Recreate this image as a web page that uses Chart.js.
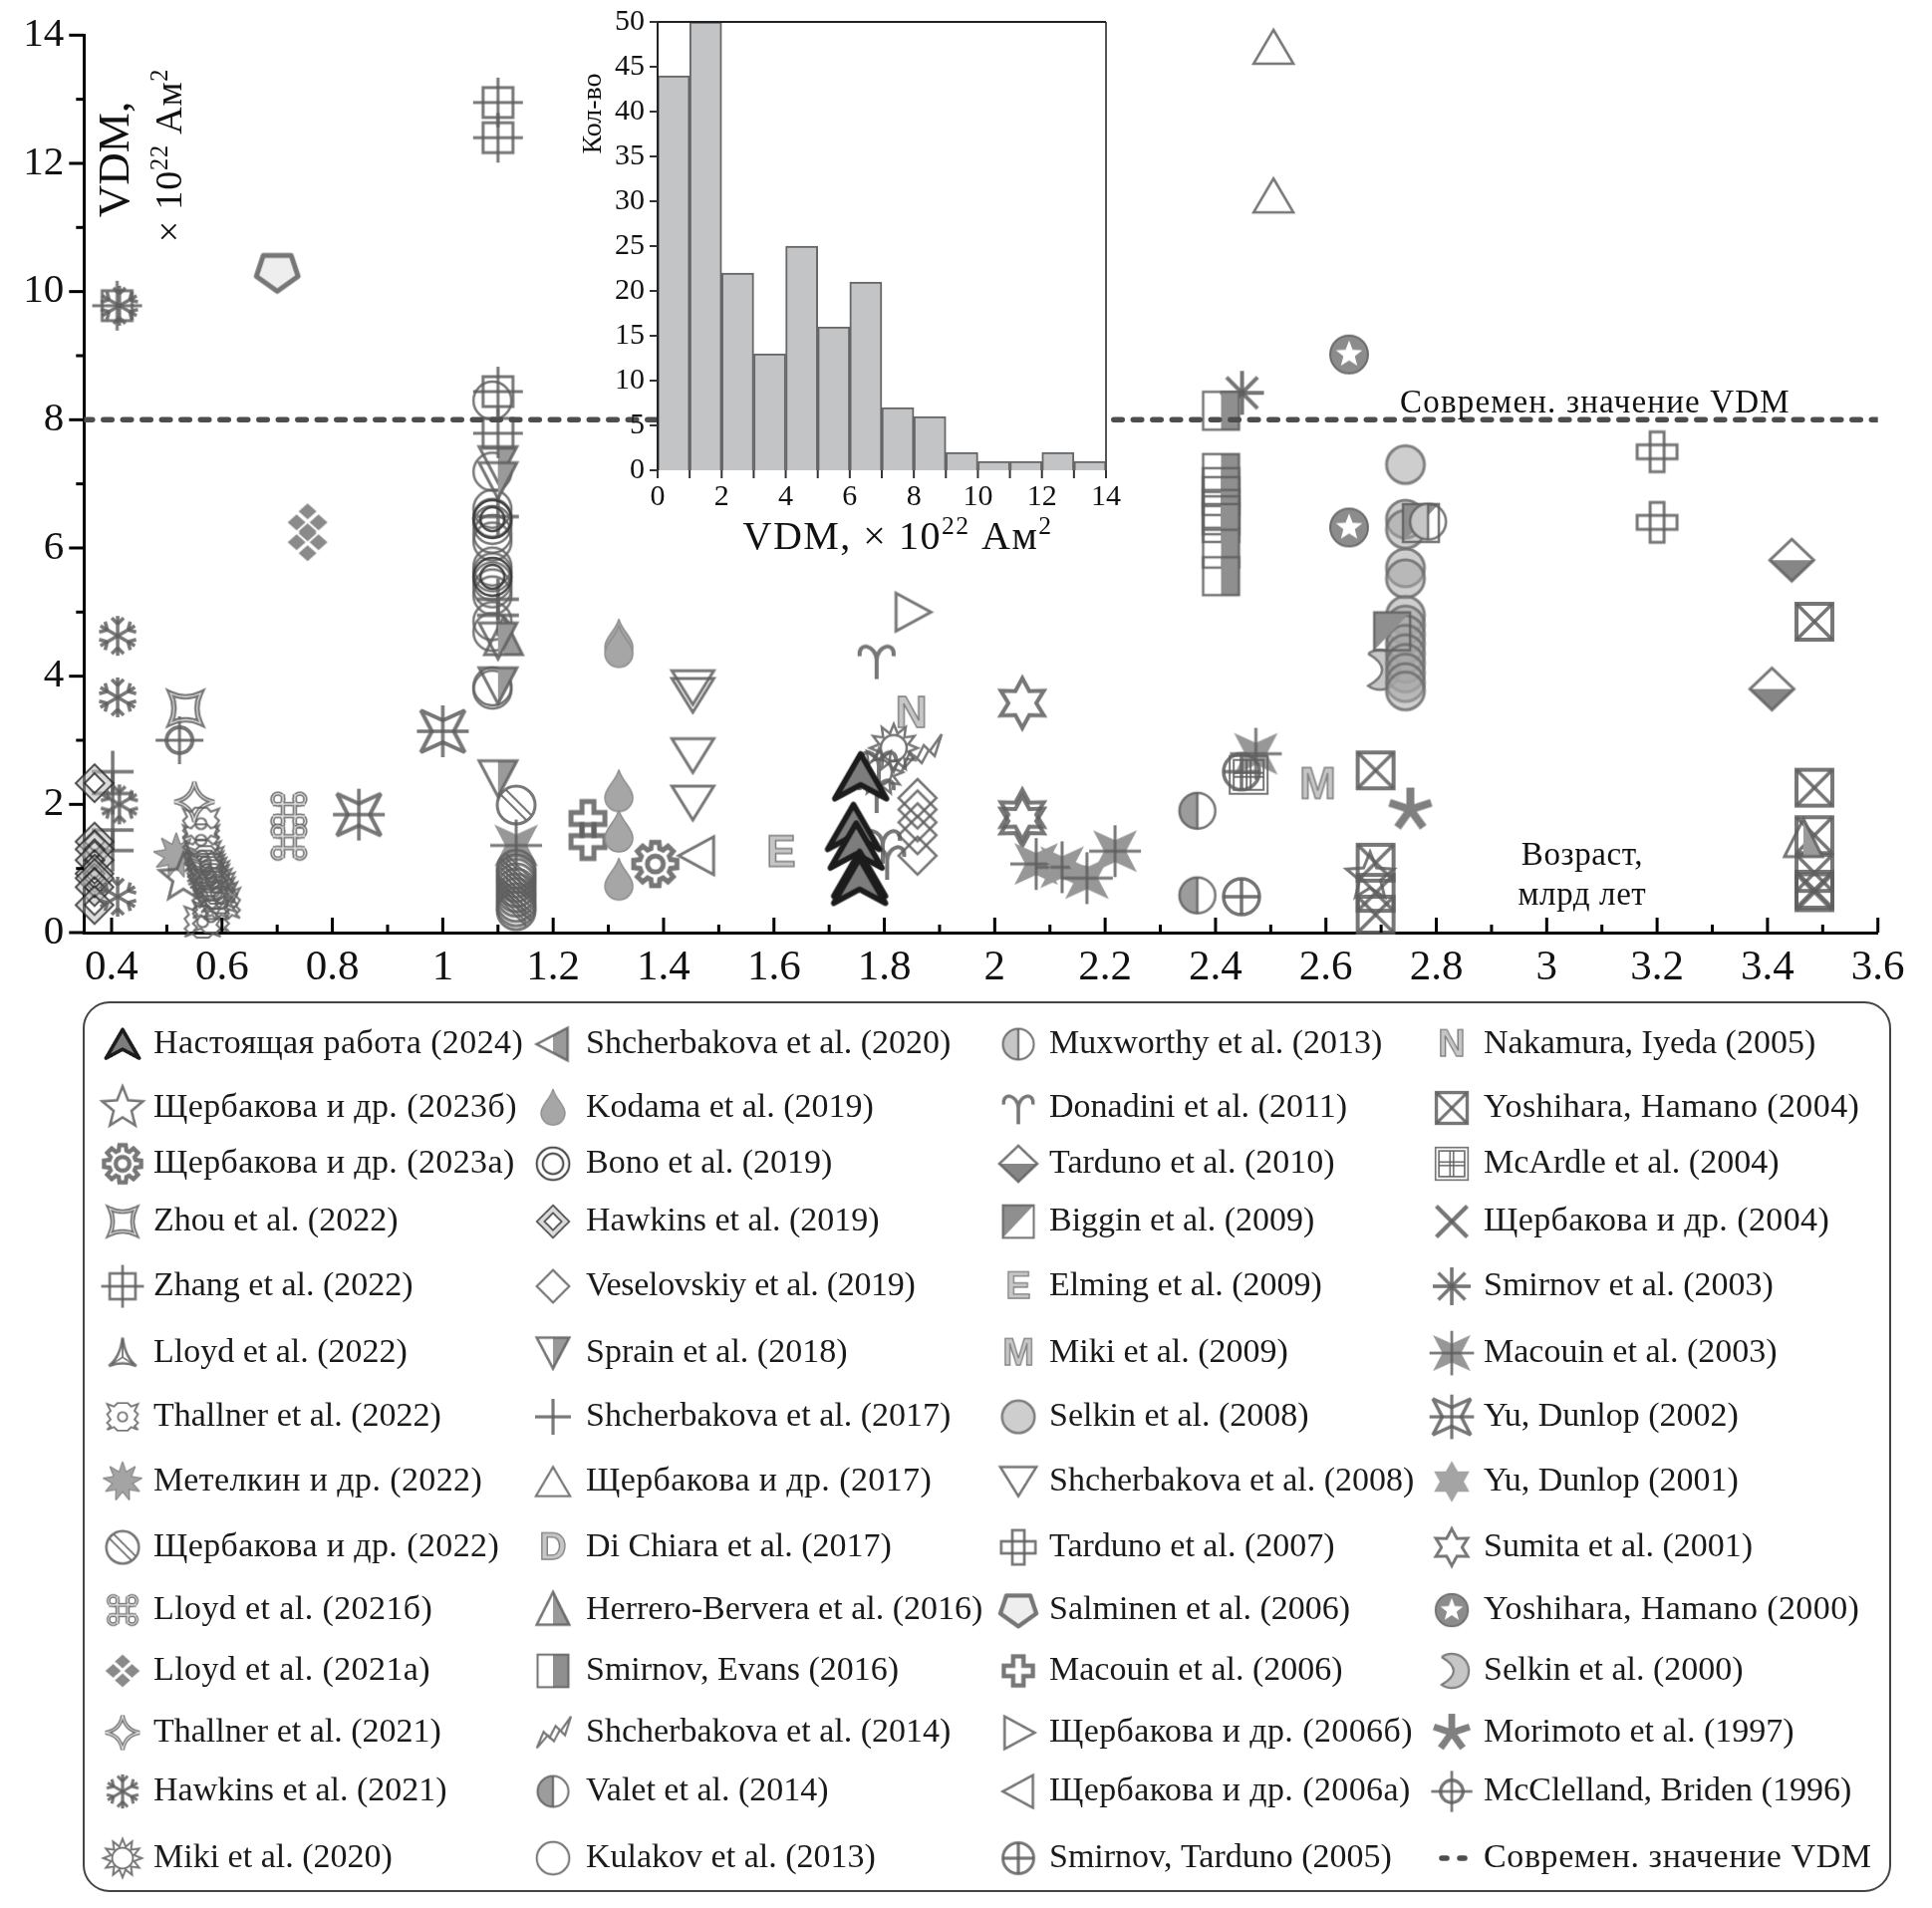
<!DOCTYPE html>
<html>
<head>
<meta charset="utf-8">
<script src="https://cdn.jsdelivr.net/npm/chart.js@4/dist/chart.umd.min.js"></script>
<style>
    body { margin: 0; background: #fff; }
    #wrap { position: relative; width: 1939px; height: 1915px; }
    #mainChart { position: absolute; left: 0; top: 0; }
    #insetChart { position: absolute; left: 560px; top: 0; }
</style>
</head>
<body>
<div id="wrap">
    <canvas id="mainChart" width="1939" height="1915"></canvas>
    <canvas id="insetChart" width="590" height="570"></canvas>
</div>
<script>
// age (Ga), VDM pairs, one list per study
const nastoyashchaya = [[1.757,2.43],[1.744,1.64],[1.749,1.35],[1.755,0.91],[1.755,0.8]];
const shch2023b = [[0.53,0.85],[2.68,0.87]];
const shch2023a = [[1.385,1.07]];
const zhou2022 = [[0.534,3.5]];
const zhang2022 = [[0.41,9.78],[1.1,12.95],[1.1,12.4],[1.1,8.44],[1.1,7.79]];
const lloyd2022 = [];
const thallner2022 = [[0.562,1.7],[0.562,1.44],[0.565,1.19],[0.57,1.1],[0.57,1.03],[0.572,0.98],[0.575,0.93],[0.58,0.88],[0.58,0.82],[0.585,0.76],[0.59,0.7],[0.59,0.62],[0.595,0.55],[0.58,0.46],[0.6,0.46],[0.58,0.25],[0.565,0.17]];
const metelkin2022 = [[0.517,1.2]];
const shch2022 = [[1.133,1.99],[1.133,0.99],[1.133,0.92],[1.133,0.85],[1.133,0.78],[1.133,0.7],[1.133,0.62],[1.133,0.55],[1.133,0.47],[1.133,0.4],[1.133,0.34]];
const lloyd2021b = [[0.721,1.91],[0.721,1.41]];
const lloyd2021a = [[0.755,6.4],[0.755,6.09]];
const thallner2021 = [[0.55,2.04]];
const hawkins2021 = [[0.414,9.78],[0.411,4.63],[0.411,3.67],[0.414,2.0],[0.411,0.56]];
const miki2020 = [[1.817,2.88],[1.79,2.5]];

const shch2020 = [];
const kodama2019 = [[1.319,4.55],[1.319,4.45],[1.319,2.2],[1.319,1.57],[1.319,0.82]];
const bono2019 = [[1.09,6.45],[1.09,5.55]];
const hawkins2019 = [[0.369,2.33],[0.369,1.42],[0.369,1.3],[0.369,1.13],[0.369,0.92],[0.369,0.85],[0.369,0.71],[0.369,0.43]];
const veselovskiy2019 = [[1.86,2.1],[1.86,1.92],[1.86,1.72],[1.86,1.52],[1.86,1.2]];
const sprain2018 = [[1.1,7.3],[1.1,7.05],[1.1,4.55],[1.1,3.85],[1.1,2.4]];
const shch2017 = [[0.402,2.51],[0.402,2.17],[0.402,1.6],[0.402,1.28],[1.1,6.49],[1.1,5.2],[1.1,4.95]];
const shch2017b = [[2.505,13.82],[2.505,11.5]];
const diChiara2017 = [];
const herrero2016 = [[1.11,4.6],[3.465,1.45]];
const smirnovEvans2016 = [[2.41,8.14],[2.41,7.17],[2.41,6.95],[2.41,6.81],[2.41,6.61],[2.41,6.51],[2.41,6.39],[2.41,5.99],[2.41,5.56]];
const shch2014 = [[1.866,2.8]];
const valet2014 = [[2.367,1.9],[2.367,0.58]];
const kulakov2013 = [[1.09,8.3],[1.09,7.19],[1.09,6.61],[1.09,6.47],[1.09,6.36],[1.09,6.22],[1.09,6.1],[1.09,5.71],[1.09,5.62],[1.09,5.48],[1.09,5.37],[1.09,5.26],[1.09,4.86],[1.09,4.69],[1.09,3.84],[1.09,3.79]];

const muxworthy2013 = [[2.785,6.41]];
const donadini2011 = [[1.786,4.25],[1.79,2.6],[1.786,2.16],[1.797,1.37],[1.805,1.12]];
const tarduno2010 = [[3.444,5.81],[3.408,3.8]];
const biggin2009 = [[2.72,4.7],[2.772,6.39]];
const elming2009 = [[1.613,1.25]];
const miki2009 = [[2.585,2.31]];
const selkin2008 = [[2.744,7.3],[2.744,6.45],[2.744,6.29],[2.744,5.69],[2.744,5.52],[2.744,4.95],[2.744,4.8],[2.744,4.65],[2.744,4.5],[2.744,4.35],[2.744,4.2],[2.744,4.05],[2.744,3.9],[2.744,3.77]];
const shch2008 = [[1.453,3.82],[1.453,3.7],[1.453,2.76],[1.453,2.02]];
const tarduno2007 = [[3.2,7.5],[3.2,6.4]];
const salminen2006 = [[0.70,10.3]];
const macouin2006 = [[1.263,1.78],[1.263,1.42]];
const shch2006b = [[1.85,5.0]];
const shch2006a = [[1.46,1.2]];
const smirnovTarduno2005 = [[2.447,0.56],[2.447,2.51]];

const nakamura2005 = [[1.849,3.42]];
const yoshihara2004 = [[2.69,2.53],[2.69,1.09],[2.69,0.62],[2.69,0.28],[3.485,4.85],[3.485,2.26],[3.485,1.52],[3.485,0.93],[3.485,0.67],[3.485,0.63]];
const mcardle2004 = [[2.46,2.46]];
const shch2004 = [];
const smirnov2003 = [[2.448,8.42]];
const macouin2003 = [[1.133,1.36],[2.075,1.07],[2.122,1.02],[2.167,0.85],[2.218,1.27],[2.473,2.79]];
const yuDunlop2002 = [[1.0,3.14],[0.848,1.84]];
const yuDunlop2001 = [];
const sumita2001 = [[2.05,3.58],[2.05,1.84],[2.05,1.74]];
const yoshihara2000 = [[2.642,9.02],[2.642,6.32]];
const selkin2000 = [[2.698,4.1]];
const morimoto1997 = [[2.753,1.92]];
const mcclelland1996 = [[0.523,3.0]];

const presentVdm = [[0.35,8],[3.6,8]];

// inset histogram
const histBins = [0.5,1.5,2.5,3.5,4.5,5.5,6.5,7.5,8.5,9.5,10.5,11.5,12.5,13.5];
const histCounts = [44,50,22,13,25,16,21,7,6,2,1,1,2,1];

const seriesLabels = [
    'Настоящая работа (2024)','Щербакова и др. (2023б)','Щербакова и др. (2023а)','Zhou et al. (2022)','Zhang et al. (2022)','Lloyd et al. (2022)','Thallner et al. (2022)','Метелкин и др. (2022)','Щербакова и др. (2022)','Lloyd et al. (2021б)','Lloyd et al. (2021а)','Thallner et al. (2021)','Hawkins et al. (2021)','Miki et al. (2020)',
    'Shcherbakova et al. (2020)','Kodama et al. (2019)','Bono et al. (2019)','Hawkins et al. (2019)','Veselovskiy et al. (2019)','Sprain et al. (2018)','Shcherbakova et al. (2017)','Щербакова и др. (2017)','Di Chiara et al. (2017)','Herrero-Bervera et al. (2016)','Smirnov, Evans (2016)','Shcherbakova et al. (2014)','Valet et al. (2014)','Kulakov et al. (2013)',
    'Muxworthy et al. (2013)','Donadini et al. (2011)','Tarduno et al. (2010)','Biggin et al. (2009)','Elming et al. (2009)','Miki et al. (2009)','Selkin et al. (2008)','Shcherbakova et al. (2008)','Tarduno et al. (2007)','Salminen et al. (2006)','Macouin et al. (2006)','Щербакова и др. (2006б)','Щербакова и др. (2006а)','Smirnov, Tarduno (2005)',
    'Nakamura, Iyeda (2005)','Yoshihara, Hamano (2004)','McArdle et al. (2004)','Щербакова и др. (2004)','Smirnov et al. (2003)','Macouin et al. (2003)','Yu, Dunlop (2002)','Yu, Dunlop (2001)','Sumita et al. (2001)','Yoshihara, Hamano (2000)','Selkin et al. (2000)','Morimoto et al. (1997)','McClelland, Briden (1996)'
];
const seriesPoints = [
    nastoyashchaya,shch2023b,shch2023a,zhou2022,zhang2022,lloyd2022,thallner2022,metelkin2022,shch2022,lloyd2021b,lloyd2021a,thallner2021,hawkins2021,miki2020,
    shch2020,kodama2019,bono2019,hawkins2019,veselovskiy2019,sprain2018,shch2017,shch2017b,diChiara2017,herrero2016,smirnovEvans2016,shch2014,valet2014,kulakov2013,
    muxworthy2013,donadini2011,tarduno2010,biggin2009,elming2009,miki2009,selkin2008,shch2008,tarduno2007,salminen2006,macouin2006,shch2006b,shch2006a,smirnovTarduno2005,
    nakamura2005,yoshihara2004,mcardle2004,shch2004,smirnov2003,macouin2003,yuDunlop2002,yuDunlop2001,sumita2001,yoshihara2000,selkin2000,morimoto1997,mcclelland1996
];

const SERIF = '"Liberation Serif"';
const GREY = 'rgba(95,95,95,0.85)';
const MID = '#9a9a9a';
const LIGHT = '#c6c6c6';

// small drawing helpers for the marker sprites
function poly(g, pts, open) {
    g.beginPath();
    pts.forEach((p, i) => i ? g.lineTo(p[0], p[1]) : g.moveTo(p[0], p[1]));
    if (!open) g.closePath();
}
function circle(g, r, x = 0, y = 0) {
    g.beginPath();
    g.arc(x, y, r, 0, Math.PI * 2);
}
function line(g, x1, y1, x2, y2) {
    g.beginPath();
    g.moveTo(x1, y1);
    g.lineTo(x2, y2);
    g.stroke();
}
function starPts(n, R, r, rot = 0) {
    const pts = [];
    for (let i = 0; i < n * 2; i++) {
        const a = rot - Math.PI / 2 + i * Math.PI / n;
        const d = i % 2 ? r : R;
        pts.push([Math.cos(a) * d, Math.sin(a) * d]);
    }
    return pts;
}
function cross(g, n) {
    line(g, -n, 0, n, 0);
    line(g, 0, -n, 0, n);
}
function doubleStroke(g, path, w = 5.5) {
    path();
    g.lineWidth = w;
    g.stroke();
    path();
    g.lineWidth = 1.3;
    g.strokeStyle = '#ddd';
    g.stroke();
    g.strokeStyle = GREY;
}
function letter(ch) {
    return g => {
        g.font = 'bold 44px "Liberation Sans"';
        g.textAlign = 'center';
        g.textBaseline = 'middle';
        g.fillStyle = LIGHT;
        g.fillText(ch, 0, 2);
        g.lineWidth = 1.5;
        g.strokeStyle = '#808080';
        g.strokeText(ch, 0, 2);
    };
}
function halfTri(pts, fillPts) {
    return g => {
        poly(g, fillPts);
        g.fill();
        poly(g, pts);
        g.stroke();
    };
}
function flake(g) {
    g.lineWidth = 3.5;
    for (let i = 0; i < 6; i++) {
        line(g, 0, 0, 0, -20);
        line(g, 0, -12, -6, -18);
        line(g, 0, -12, 6, -18);
        g.rotate(Math.PI / 3);
    }
}
function gearPts() {
    const pts = [];
    for (let i = 0; i < 8; i++) {
        const a = i * Math.PI / 4;
        [[-0.28, 16], [-0.17, 22], [0.17, 22], [0.28, 16]].forEach(t => {
            pts.push([Math.sin(a + t[0]) * t[1], -Math.cos(a + t[0]) * t[1]]);
        });
    }
    return pts;
}
// four long diagonal points, shared by the two starred cross markers
const diagStar = [[22,-21],[11,0],[22,21],[0,11],[-22,21],[-11,0],[-22,-21],[0,-11]];

const markerDrawers = [
    g => { poly(g, [[0,-23],[26,22],[0,8],[-26,22]]); g.fillStyle = '#7d7d7d'; g.fill(); g.lineWidth = 5.5; g.strokeStyle = '#1c1c1c'; g.lineJoin = 'round'; g.stroke(); },
    g => { poly(g, starPts(5, 25, 11)); g.stroke(); },
    g => { poly(g, gearPts()); g.lineWidth = 5; g.stroke(); circle(g, 8); g.lineWidth = 5; g.stroke(); },
    g => doubleStroke(g, () => { g.beginPath(); g.moveTo(-15,-15); g.quadraticCurveTo(0,-8,15,-15); g.quadraticCurveTo(8,0,15,15); g.quadraticCurveTo(0,8,-15,15); g.quadraticCurveTo(-8,0,-15,-15); g.closePath(); }),
    g => { g.strokeRect(-15,-15,30,30); cross(g, 25); },
    g => { g.beginPath(); g.moveTo(0,-18); g.quadraticCurveTo(3,5,16,15); g.quadraticCurveTo(0,9,-16,15); g.quadraticCurveTo(-3,5,0,-18); g.closePath(); g.stroke(); g.lineWidth = 2; line(g,0,-16,0,5); line(g,0,5,13,13); line(g,0,5,-13,13); },
    g => { poly(g, [[-18,-15],[-10,-12],[-6,-16],[6,-16],[10,-12],[18,-15],[14,-7],[18,-3],[14,3],[18,7],[14,11],[18,15],[10,12],[6,16],[-6,16],[-10,12],[-18,15],[-14,11],[-18,7],[-14,3],[-18,-3],[-14,-7]]); g.lineWidth = 2.2; g.stroke(); circle(g, 5.5); g.stroke(); },
    g => { poly(g, starPts(9, 23, 12)); g.fillStyle = '#a4a4a4'; g.fill(); g.strokeStyle = '#8b8b8b'; g.lineWidth = 1.5; g.stroke(); },
    g => { circle(g, 19); g.lineWidth = 3; g.stroke(); g.lineWidth = 2.2; line(g,-15,-10,10,15); line(g,-10,-15,15,10); },
    g => doubleStroke(g, () => { g.beginPath(); [[-1,-1],[1,-1],[1,1],[-1,1]].forEach(s => { g.moveTo(s[0]*11 + 5.5, s[1]*11); g.arc(s[0]*11, s[1]*11, 5.5, 0, Math.PI*2); }); g.moveTo(-6,-16); g.lineTo(-6,16); g.moveTo(6,-16); g.lineTo(6,16); g.moveTo(-16,-6); g.lineTo(16,-6); g.moveTo(-16,6); g.lineTo(16,6); }, 4.5),
    g => { g.fillStyle = '#8a8a8a'; [[0,-11],[11,0],[0,11],[-11,0]].forEach(c => { poly(g, [[c[0],c[1]-8],[c[0]+9,c[1]],[c[0],c[1]+8],[c[0]-9,c[1]]]); g.fill(); }); },
    g => doubleStroke(g, () => { g.beginPath(); g.moveTo(0,-20); g.quadraticCurveTo(3,-3,20,0); g.quadraticCurveTo(3,3,0,20); g.quadraticCurveTo(-3,3,-20,0); g.quadraticCurveTo(-3,-3,0,-20); g.closePath(); }, 4.5),
    flake,
    g => { poly(g, starPts(12, 24, 15)); g.lineWidth = 2.5; g.stroke(); circle(g, 13); g.stroke(); },

    halfTri([[-19,0],[17,-19],[17,19]], [[0,-9.5],[17,-19],[17,19],[0,9.5]]),
    g => { g.beginPath(); g.moveTo(0,-22); g.bezierCurveTo(3,-10,14,-4,14,6); g.arc(0,6,14,0,Math.PI); g.bezierCurveTo(-14,-4,-3,-10,0,-22); g.closePath(); g.fillStyle = '#a6a6a6'; g.fill(); g.strokeStyle = '#8e8e8e'; g.lineWidth = 1.5; g.stroke(); },
    g => { circle(g, 19); g.strokeStyle = 'rgba(55,55,55,.9)'; g.lineWidth = 2.5; g.stroke(); circle(g, 12); g.lineWidth = 2.5; g.stroke(); },
    g => { g.beginPath(); g.moveTo(0,-19); g.lineTo(19,0); g.lineTo(0,19); g.lineTo(-19,0); g.closePath(); g.moveTo(0,-10); g.lineTo(-10,0); g.lineTo(0,10); g.lineTo(10,0); g.closePath(); g.fillStyle = 'rgba(190,190,190,.55)'; g.fill('evenodd'); g.strokeStyle = 'rgba(40,40,40,.85)'; g.lineWidth = 1.8; g.stroke(); },
    g => { poly(g, [[0,-19],[19,0],[0,19],[-19,0]]); g.lineWidth = 2.5; g.stroke(); },
    halfTri([[-19,-18],[19,-18],[0,18]], [[0,-18],[19,-18],[0,18]]),
    g => { g.lineWidth = 3.5; cross(g, 21); },
    g => { poly(g, [[0,-17],[20,17],[-20,17]]); g.lineWidth = 2.5; g.stroke(); },
    letter('D'),
    halfTri([[0,-21],[19,17],[-19,17]], [[0,-21],[19,17],[0,17]]),
    g => { g.fillStyle = '#8f8f8f'; g.fillRect(0,-19,18,38); g.lineWidth = 2.5; g.strokeRect(-18,-19,36,38); },
    g => { poly(g, [[-19,18],[-11,-1],[-4,6],[3,-8],[9,-2],[21,-19],[14,3],[8,-3],[1,10],[-6,3]]); g.lineWidth = 2.5; g.stroke(); },
    g => { g.beginPath(); g.arc(0,0,18,Math.PI/2,Math.PI*1.5); g.closePath(); g.fillStyle = '#9c9c9c'; g.fill(); circle(g, 18); g.lineWidth = 2.5; g.stroke(); line(g,0,-18,0,18); },
    g => { circle(g, 19); g.lineWidth = 2.5; g.stroke(); },

    g => { g.beginPath(); g.arc(0,0,18,Math.PI/2,Math.PI*1.5); g.closePath(); g.fillStyle = LIGHT; g.fill(); circle(g, 18); g.lineWidth = 2.5; g.stroke(); line(g,0,-18,0,18); },
    g => { g.lineWidth = 4; g.beginPath(); g.moveTo(0,19); g.lineTo(0,0); g.bezierCurveTo(-1,-16,-19,-19,-17,-4); g.moveTo(0,0); g.bezierCurveTo(1,-16,19,-19,17,-4); g.stroke(); },
    g => { poly(g, [[-22,0],[22,0],[0,21]]); g.fillStyle = '#868686'; g.fill(); poly(g, [[0,-21],[22,0],[0,21],[-22,0]]); g.stroke(); },
    g => { poly(g, [[-18,-19],[18,-19],[-18,19]]); g.fillStyle = '#8f8f8f'; g.fill(); g.lineWidth = 2.5; g.strokeRect(-18,-19,36,38); },
    letter('E'),
    letter('M'),
    g => { circle(g, 19); g.fillStyle = 'rgba(165,165,165,.55)'; g.fill(); g.strokeStyle = 'rgba(110,110,110,.85)'; g.lineWidth = 3; g.stroke(); },
    g => { poly(g, [[-21,-17],[21,-17],[0,17]]); g.lineWidth = 3; g.stroke(); },
    g => { g.lineWidth = 3; g.strokeRect(-20,-7,40,14); g.strokeRect(-7,-20,14,40); },
    g => { poly(g, [[-14,-17],[14,-17],[21,4],[0,19],[-21,4]]); g.fillStyle = '#eee'; g.fill(); g.lineWidth = 5; g.lineJoin = 'round'; g.stroke(); },
    g => { poly(g, [[-6,-17],[6,-17],[6,-6],[17,-6],[17,6],[6,6],[6,17],[-6,17],[-6,6],[-17,6],[-17,-6],[-6,-6]]); g.lineWidth = 5; g.stroke(); },
    g => { poly(g, [[-16,-19],[19,0],[-16,19]]); g.lineWidth = 3; g.stroke(); },
    g => { poly(g, [[17,-19],[-18,0],[17,19]]); g.lineWidth = 3; g.stroke(); },
    g => { circle(g, 18); g.lineWidth = 3.5; g.stroke(); cross(g, 18); },

    letter('N'),
    g => { g.lineWidth = 4; g.strokeRect(-18,-18,36,36); g.lineWidth = 3.5; line(g,-18,-18,18,18); line(g,18,-18,-18,18); },
    g => { g.lineWidth = 2; g.strokeRect(-19,-19,38,38); g.strokeRect(-15,-15,30,30); line(g,-2,-15,-2,15); line(g,2,-15,2,15); line(g,-15,-2,15,-2); line(g,-15,2,15,2); },
    g => { g.lineWidth = 5; line(g,-18,-18,18,18); line(g,18,-18,-18,18); },
    g => { g.lineWidth = 4; for (let i = 0; i < 8; i++) { line(g, 0, 0, 0, -22); g.rotate(Math.PI / 4); } },
    g => { poly(g, diagStar); g.fillStyle = '#979797'; g.fill(); g.lineWidth = 3; cross(g, 26); },
    g => { poly(g, diagStar); g.lineWidth = 4; g.stroke(); g.lineWidth = 3.5; cross(g, 26); },
    g => { poly(g, starPts(6, 24, 14)); g.fillStyle = '#a4a4a4'; g.fill(); },
    g => { poly(g, starPts(6, 25, 14)); g.lineWidth = 4; g.stroke(); },
    g => { circle(g, 19); g.fillStyle = '#8c8c8c'; g.fill(); g.lineWidth = 2; g.stroke(); poly(g, starPts(5, 14, 6)); g.fillStyle = '#fff'; g.fill(); },
    g => { g.beginPath(); g.arc(0,0,20,-2.2,2.2); g.quadraticCurveTo(16,0,-11.8,-16.2); g.closePath(); g.fillStyle = LIGHT; g.fill(); g.strokeStyle = '#7c7c7c'; g.lineWidth = 2.5; g.stroke(); },
    g => { g.lineWidth = 8; g.strokeStyle = '#808080'; for (let i = 0; i < 5; i++) { line(g, 0, 0, 0, -22); g.rotate(Math.PI * 2 / 5); } },
    g => { circle(g, 13); g.lineWidth = 4; g.stroke(); g.lineWidth = 3; cross(g, 24); }
];

function makeSprite(draw) {
    const c = document.createElement('canvas');
    c.width = c.height = 72;
    const g = c.getContext('2d');
    g.translate(36, 36);
    g.strokeStyle = GREY;
    g.fillStyle = MID;
    g.lineWidth = 3;
    g.miterLimit = 3;
    draw(g);
    return c;
}
const sprites = markerDrawers.map(makeSprite);

const scatterSets = seriesLabels.map((label, i) => ({
    label,
    type: 'scatter',
    data: seriesPoints[i].map(p => ({ x: p[0], y: p[1] })),
    pointStyle: sprites[i],
    pointRadius: 10,
    clip: false
}));

const isMajor = v => Math.round(v * 10) % 2 === 0;

// y axis reserves half a label plus tick padding above the plot, which would push the top down
function pinYAxis(width) {
    return s => {
        s.width = width;
        s.paddingTop = 0;
        s.paddingBottom = 0;
    };
}

// "× 10²² Ам²" with real raised digits, drawn centred on the current origin
function drawPowerTitle(ctx, size, spacing, prefix = '') {
    const parts = [[prefix + '× 10', 1, 0], ['22', 0.64, 0.36], [' Ам', 1, 0], ['2', 0.64, 0.36]];
    ctx.letterSpacing = spacing + 'px';
    ctx.textAlign = 'left';
    ctx.textBaseline = 'alphabetic';
    const widths = parts.map(p => {
        ctx.font = `${size * p[1]}px ${SERIF}`;
        return ctx.measureText(p[0]).width;
    });
    let x = -widths.reduce((a, b) => a + b, 0) / 2;
    parts.forEach((p, i) => {
        ctx.font = `${size * p[1]}px ${SERIF}`;
        ctx.fillText(p[0], x, size * 0.32 - size * p[2]);
        x += widths[i];
    });
    ctx.letterSpacing = '0px';
}

// chart.js only draws outward ticks of one length, these axes need two lengths
const axisTicks = {
    id: 'axisTicks',
    afterDraw(chart) {
        const { ctx, scales: { x, y } } = chart;
        ctx.save();
        ctx.strokeStyle = '#000';
        ctx.lineWidth = 3;
        x.ticks.forEach(t => {
            const px = x.getPixelForValue(t.value);
            ctx.beginPath();
            ctx.moveTo(px, y.bottom);
            ctx.lineTo(px, y.bottom - (isMajor(t.value) ? 15 : 8));
            ctx.stroke();
        });
        y.ticks.forEach(t => {
            const py = y.getPixelForValue(t.value);
            ctx.beginPath();
            ctx.moveTo(x.left, py);
            ctx.lineTo(x.left - (t.value % 2 === 0 ? 15 : 8), py);
            ctx.stroke();
        });
        ctx.restore();
    }
};

const figureText = {
    id: 'figureText',
    afterDraw(chart) {
        const ctx = chart.ctx;
        ctx.save();
        ctx.fillStyle = '#111';
        ctx.textBaseline = 'middle';
        ctx.textAlign = 'center';

        ctx.save();
        ctx.translate(117, 160);
        ctx.rotate(-Math.PI / 2);
        ctx.font = `45px ${SERIF}`;
        ctx.fillText('VDM,', 0, 0);
        ctx.restore();

        ctx.save();
        ctx.translate(170, 156);
        ctx.rotate(-Math.PI / 2);
        drawPowerTitle(ctx, 38, 0.8);
        ctx.restore();

        ctx.textAlign = 'center';
        ctx.textBaseline = 'middle';
        ctx.font = `33px ${SERIF}`;
        ctx.letterSpacing = '1.2px';
        ctx.fillText('Современ. значение VDM', 1601, 405);
        ctx.letterSpacing = '0.6px';
        ctx.fillText('Возраст,', 1588, 859);
        ctx.fillText('млрд лет', 1588, 899);
        ctx.restore();
    }
};

// legend box: 14 rows in 4 columns, rows are not evenly spaced in the figure
const legendRows = [1048,1112,1168,1226,1291,1358,1422,1487,1553,1616,1677,1739,1798,1865];
const legendMarkerX = [123,555,1022,1457];
const legendTextX = [154,588,1053,1489];
const legendScale = { 0: 0.64, 13: 0.8, 50: 0.74 };

const legendBox = {
    id: 'legendBox',
    afterDraw(chart) {
        const ctx = chart.ctx;
        ctx.save();
        ctx.strokeStyle = '#444';
        ctx.lineWidth = 2;
        ctx.beginPath();
        ctx.roundRect(84, 1006, 1813, 892, 26);
        ctx.stroke();

        ctx.font = `34px ${SERIF}`;
        ctx.fillStyle = '#1a1a1a';
        ctx.textBaseline = 'middle';
        ctx.textAlign = 'left';
        seriesLabels.forEach((label, i) => {
            const col = Math.floor(i / 14);
            const y = legendRows[i % 14];
            const s = legendScale[i] || 0.86;
            ctx.drawImage(sprites[i], legendMarkerX[col] - 36 * s, y - 36 * s, 72 * s, 72 * s);
            // the Cyrillic setting runs a little wider than Liberation Serif
            ctx.letterSpacing = /[а-я]/.test(label) || label.startsWith('Yoshihara') ? '0.4px'
                : label.startsWith('Veselovskiy') ? '-0.3px' : '0px';
            ctx.fillText(label, legendTextX[col], y);
        });

        ctx.strokeStyle = '#4d4d4d';
        ctx.lineWidth = 5.5;
        ctx.lineCap = 'round';
        ctx.beginPath();
        ctx.moveTo(1447, 1865);
        ctx.lineTo(1452, 1865);
        ctx.moveTo(1465, 1865);
        ctx.lineTo(1470, 1865);
        ctx.stroke();
        ctx.letterSpacing = '0.6px';
        ctx.fillText('Современ. значение VDM', legendTextX[3], 1865);
        ctx.restore();
    }
};

new Chart(document.getElementById('mainChart'), {
    data: {
        datasets: [{
            type: 'line',
            label: 'Современ. значение VDM',
            data: presentVdm.map(p => ({ x: p[0], y: p[1] })),
            borderColor: '#4d4d4d',
            borderWidth: 5.5,
            borderDash: [8.5, 11],
            borderCapStyle: 'round',
            pointRadius: 0
        }, ...scatterSets]
    },
    options: {
        responsive: false,
        animation: false,
        layout: { padding: { left: 0, top: 35.3, right: 54.3, bottom: 919 } },
        plugins: { legend: { display: false }, tooltip: { enabled: false } },
        scales: {
            x: {
                type: 'linear',
                min: 0.35,
                max: 3.6,
                afterFit: s => { s.height = 60; },
                grid: { display: false, drawTicks: false },
                border: { color: '#000', width: 3 },
                ticks: {
                    stepSize: 0.1,
                    includeBounds: false,
                    autoSkip: false,
                    maxRotation: 0,
                    padding: 10,
                    color: '#111',
                    font: { family: 'Liberation Serif', size: 43 },
                    callback: v => isMajor(v) ? String(Math.round(v * 10) / 10) : ''
                }
            },
            y: {
                min: 0,
                max: 14,
                afterFit: pinYAxis(84.3),
                grid: { display: false, drawTicks: false },
                border: { color: '#000', width: 3 },
                ticks: {
                    stepSize: 1,
                    autoSkip: false,
                    padding: 20,
                    color: '#111',
                    font: { family: 'Liberation Serif', size: 41 },
                    callback: v => v % 2 === 0 ? String(v) : ''
                }
            }
        }
    },
    plugins: [axisTicks, figureText, legendBox]
});

const insetFrame = {
    id: 'insetFrame',
    beforeDatasetsDraw(chart) {
        const { ctx, chartArea: a } = chart;
        ctx.save();
        ctx.fillStyle = '#fff';
        ctx.fillRect(a.left, a.top, a.right - a.left, a.bottom - a.top);
        ctx.restore();
    },
    afterDraw(chart) {
        const { ctx, chartArea: a, scales: { x, y } } = chart;
        ctx.save();
        ctx.strokeStyle = '#555';
        ctx.lineWidth = 2;
        ctx.beginPath();
        ctx.moveTo(a.right, a.bottom);
        ctx.lineTo(a.right, a.top);
        ctx.stroke();
        ctx.strokeStyle = '#222';
        ctx.beginPath();
        ctx.moveTo(a.left - 8, a.top);
        ctx.lineTo(a.right, a.top);
        ctx.moveTo(a.left, a.top);
        ctx.lineTo(a.left, a.bottom);
        ctx.stroke();

        ctx.strokeStyle = '#333';
        x.ticks.forEach(t => {
            const px = x.getPixelForValue(t.value);
            ctx.beginPath();
            ctx.moveTo(px, a.bottom);
            ctx.lineTo(px, a.bottom + 8);
            ctx.stroke();
        });
        y.ticks.forEach(t => {
            const py = y.getPixelForValue(t.value);
            ctx.beginPath();
            ctx.moveTo(a.left, py);
            ctx.lineTo(a.left - 8, py);
            ctx.stroke();
        });

        ctx.fillStyle = '#111';
        ctx.save();
        ctx.translate(341, 538);
        drawPowerTitle(ctx, 40, 1.5, 'VDM, ');
        ctx.restore();
        ctx.textAlign = 'center';
        ctx.textBaseline = 'middle';
        ctx.translate(36, 114);
        ctx.rotate(-Math.PI / 2);
        ctx.font = `28px ${SERIF}`;
        ctx.fillText('Кол-во', 0, 0);
        ctx.restore();
    }
};

new Chart(document.getElementById('insetChart'), {
    type: 'bar',
    data: {
        datasets: [{
            data: histBins.map((b, i) => ({ x: b, y: histCounts[i] })),
            backgroundColor: '#c3c4c6',
            borderColor: '#666',
            borderWidth: 2,
            barPercentage: 1,
            categoryPercentage: 1
        }]
    },
    options: {
        responsive: false,
        animation: false,
        layout: { padding: { left: 0, top: 22, right: 40, bottom: 58 } },
        plugins: { legend: { display: false }, tooltip: { enabled: false } },
        scales: {
            x: {
                type: 'linear',
                min: 0,
                max: 14,
                offset: false,
                afterFit: s => { s.height = 40; },
                grid: { display: false, drawTicks: false },
                border: { display: false },
                ticks: {
                    stepSize: 1,
                    autoSkip: false,
                    maxRotation: 0,
                    padding: 9,
                    color: '#111',
                    font: { family: 'Liberation Serif', size: 30 },
                    callback: v => v % 2 === 0 ? String(v) : ''
                }
            },
            y: {
                min: 0,
                max: 50,
                afterFit: pinYAxis(100),
                grid: { display: false, drawTicks: false },
                border: { display: false },
                ticks: {
                    stepSize: 5,
                    autoSkip: false,
                    padding: 13,
                    color: '#111',
                    font: { family: 'Liberation Serif', size: 30 }
                }
            }
        }
    },
    plugins: [insetFrame]
});
</script>
</body>
</html>
